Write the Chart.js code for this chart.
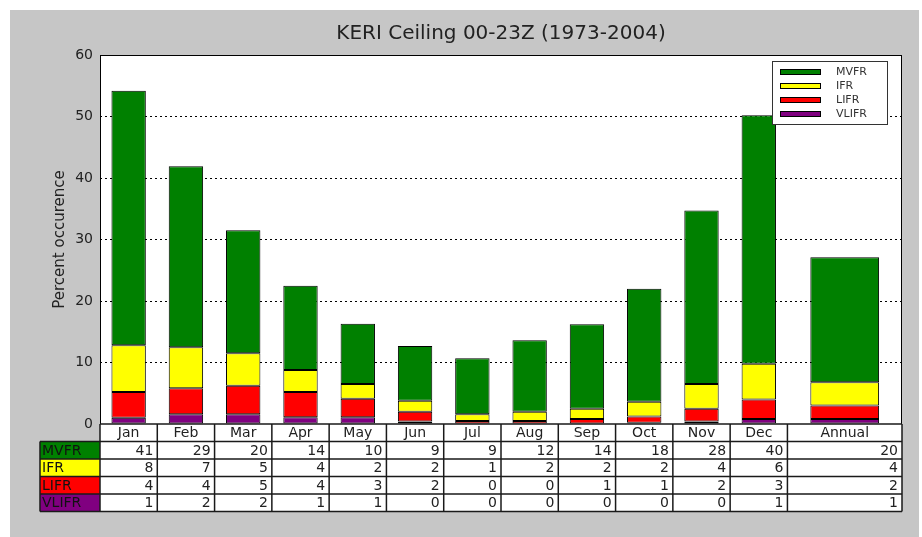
<!DOCTYPE html>
<html>
<head>
<meta charset="utf-8">
<script src="https://cdn.jsdelivr.net/npm/chart.js@4"></script>
<style>
  body { margin: 0; background: #fff; }
  canvas { display: block; }
</style>
</head>
<body>
<canvas id="ceiling" width="922" height="537"></canvas>
<script>
let months = ["Jan", "Feb", "Mar", "Apr", "May", "Jun", "Jul", "Aug", "Sep", "Oct", "Nov", "Dec"];
let annualLabel = "Annual";
let categories = ["VLIFR", "LIFR", "IFR", "MVFR"];
let colors = ["#800080", "#ff0000", "#ffff00", "#008000"];

// percent occurrence, Jan..Dec then Annual
let vlifr = [1.0, 1.6, 1.6, 1.1, 1.1, 0.4, 0.1, 0.1, 0.1, 0.2, 0.4, 0.8, 0.8];
let lifr = [4.2, 4.2, 4.6, 4.1, 3.0, 1.6, 0.4, 0.4, 0.7, 1.0, 2.1, 3.2, 2.2];
let ifr = [7.6, 6.7, 5.3, 3.6, 2.4, 1.8, 1.1, 1.5, 1.7, 2.4, 4.0, 5.8, 3.8];
let mvfr = [41.4, 29.4, 20.0, 13.7, 9.8, 8.9, 9.1, 11.6, 13.7, 18.4, 28.2, 40.4, 20.3];
let series = [vlifr, lifr, ifr, mvfr];

let yMax = 60;
let yStep = 10;
let font = "DejaVu Sans";

let datasets = [];
series.forEach(function (vals, k) {
    datasets.push({
        label: categories[k],
        data: months.map(function (m, i) { return {x: i + 0.5, y: vals[i]}; }),
        backgroundColor: colors[k],
        borderColor: "#000",
        borderWidth: 1,
        borderSkipped: false,
        categoryPercentage: 1,
        barPercentage: 0.6
    });
});
// annual column is twice as wide as a month
series.forEach(function (vals, k) {
    datasets.push({
        label: categories[k] + " " + annualLabel,
        data: [{x: months.length + 1, y: vals[months.length]}],
        backgroundColor: colors[k],
        borderColor: "#000",
        borderWidth: 1,
        borderSkipped: false,
        categoryPercentage: 1,
        barPercentage: 1.2
    });
});

let framePlugin = {
    id: "frame",
    beforeDraw(chart) {
        let ctx = chart.ctx, a = chart.chartArea;
        ctx.save();
        ctx.fillStyle = "#fff";
        ctx.fillRect(0, 0, chart.width, chart.height);
        ctx.fillStyle = "#c6c6c6";
        ctx.fillRect(10, 10, 909, 527);
        ctx.fillStyle = "#fff";
        ctx.fillRect(a.left, a.top, a.right - a.left, a.bottom - a.top);
        ctx.restore();
    },
    afterDraw(chart) {
        let ctx = chart.ctx, a = chart.chartArea, xs = chart.scales.x;
        ctx.save();

        // plot frame
        ctx.strokeStyle = "#000";
        ctx.lineWidth = 1;
        ctx.strokeRect(a.left + 0.5, a.top + 0.5, a.right - a.left - 1, a.bottom - a.top);

        // legend
        let lx = a.right - 130, ly = a.top + 6;
        ctx.fillStyle = "#fff";
        ctx.fillRect(lx, ly, 115, 63);
        ctx.strokeStyle = "#333";
        ctx.strokeRect(lx + 0.5, ly + 0.5, 115, 63);
        ctx.font = "11px " + font;
        ctx.textBaseline = "middle";
        ctx.textAlign = "left";
        for (let k = categories.length - 1, r = 0; k >= 0; k--, r++) {
            let cy = ly + 11 + r * 14;
            ctx.fillStyle = colors[k];
            ctx.fillRect(lx + 8, cy - 3, 41, 6);
            ctx.strokeStyle = "#000";
            ctx.strokeRect(lx + 8.5, cy - 2.5, 40, 5);
            ctx.fillStyle = "#333";
            ctx.fillText(categories[k], lx + 64, cy);
        }

        // table under the plot
        let labels = months.concat([annualLabel]);
        let edges = months.map(function (m, i) { return xs.getPixelForValue(i); });
        edges.push(xs.getPixelForValue(months.length));
        edges.push(xs.getPixelForValue(months.length + 2));
        let rowH = 17.5, top = a.bottom, labelLeft = 40;
        let nRows = categories.length + 1;

        ctx.fillStyle = "#fff";
        ctx.fillRect(edges[0], top, edges[edges.length - 1] - edges[0], rowH * nRows);
        for (let r = 1; r < nRows; r++) {
            let k = categories.length - r;
            ctx.fillStyle = colors[k];
            ctx.fillRect(labelLeft, top + r * rowH, edges[0] - labelLeft, rowH);
        }

        ctx.font = "14px " + font;
        ctx.fillStyle = "#222";
        ctx.textAlign = "center";
        labels.forEach(function (lab, c) {
            ctx.fillText(lab, (edges[c] + edges[c + 1]) / 2, top + rowH / 2 + 1);
        });
        for (let r = 1; r < nRows; r++) {
            let k = categories.length - r;
            let cy = top + r * rowH + rowH / 2 + 1;
            ctx.textAlign = "left";
            ctx.fillStyle = "#111";
            ctx.fillText(categories[k], labelLeft + 2, cy);
            ctx.textAlign = "right";
            ctx.fillStyle = "#222";
            series[k].forEach(function (v, c) {
                ctx.fillText(String(Math.round(v)), edges[c + 1] - 4, cy);
            });
        }

        ctx.strokeStyle = "#1a1a1a";
        ctx.lineWidth = 1.5;
        ctx.beginPath();
        let right = edges[edges.length - 1], bottom = top + rowH * nRows;
        for (let r = 0; r <= nRows; r++) {
            let y = top + r * rowH;
            ctx.moveTo(r === 0 ? edges[0] : labelLeft, y);
            ctx.lineTo(right, y);
        }
        edges.forEach(function (x) {
            ctx.moveTo(x, top);
            ctx.lineTo(x, bottom);
        });
        ctx.moveTo(labelLeft, top + rowH);
        ctx.lineTo(labelLeft, bottom);
        ctx.stroke();
        ctx.restore();
    }
};

let chart = new Chart(document.getElementById("ceiling").getContext("2d"), {
    type: "bar",
    data: { datasets: datasets },
    plugins: [framePlugin],
    options: {
        responsive: false,
        animation: false,
        devicePixelRatio: 1,
        layout: { padding: { left: 10, right: 20, top: 10, bottom: 113 } },
        scales: {
            x: {
                type: "linear",
                display: false,
                stacked: true,
                offset: false,
                min: 0,
                max: months.length + 2,
                ticks: { stepSize: 1 },
                grid: { offset: false }
            },
            y: {
                stacked: true,
                min: 0,
                max: yMax,
                afterFit: function (s) { s.width = 90; },
                ticks: {
                    stepSize: yStep,
                    padding: 7,
                    color: "#222",
                    font: { family: font, size: 14 }
                },
                grid: {
                    drawTicks: false,
                    lineWidth: 1,
                    color: function (c) {
                        return (c.tick && (c.tick.value === 0 || c.tick.value === yMax)) ? "rgba(0,0,0,0)" : "#000";
                    }
                },
                border: { display: false, dash: [2, 3] },
                title: {
                    display: true,
                    text: "Percent occurence",
                    color: "#222",
                    font: { family: font, size: 15 },
                    padding: { top: 41, bottom: 0 }
                }
            }
        },
        plugins: {
            legend: { display: false },
            tooltip: { enabled: false },
            title: {
                display: true,
                fullSize: false,
                text: "KERI Ceiling 00-23Z (1973-2004)",
                color: "#222",
                font: { family: font, size: 20, weight: "normal" },
                padding: { top: 12, bottom: 9 }
            }
        }
    }
});
</script>
</body>
</html>
